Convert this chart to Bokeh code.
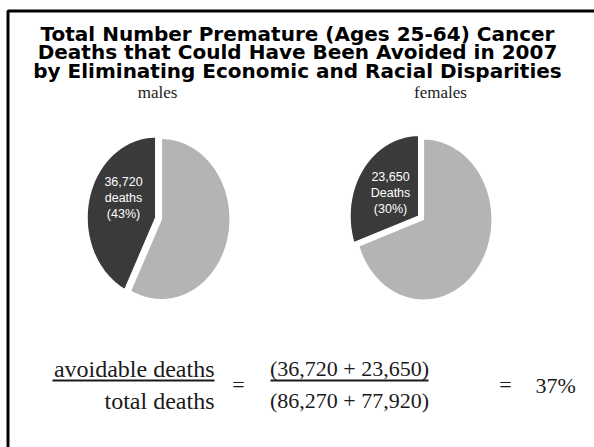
import numpy as np
from bokeh.plotting import figure
from bokeh.models import Range1d, ColumnDataSource
from bokeh.core.properties import value
from bokeh.embed import file_html
from bokeh.resources import INLINE

# --- data -------------------------------------------------------------
title_lines = [
    "Total Number Premature (Ages 25-64) Cancer",
    "Deaths that Could Have Been Avoided in 2007",
    "by Eliminating Economic and Racial Disparities",
]
groups = ["males", "females"]
avoidable = [36720, 23650]          # avoidable premature cancer deaths
total = [86270, 77920]              # all premature cancer deaths
death_word = ["deaths", "Deaths"]

# --- styling / layout -------------------------------------------------
W, H = 594, 447
DARK = "#3a3a3a"
LIGHT = "#b4b4b4"
INK = "#1a1a1a"
SANS = "Liberation Sans"
TITLE_FONT = "DejaVu Sans"
SERIF = "Liberation Serif"

pie_cx = [161, 423]
pie_cy = [218.5, 219]
RX, RY = 68.5, 80.5
EXPLODE = 6

p = figure(width=W, height=H, x_range=Range1d(0, W), y_range=Range1d(H, 0),
           output_backend="svg", toolbar_location=None, min_border=0,
           x_axis_location=None, y_axis_location=None)
p.grid.visible = False
p.outline_line_color = None
p.background_fill_color = "white"
p.border_fill_color = "white"

# frame around the slide
p.line(x=[7.5, 7.5, W + 5], y=[H + 5, 10.5, 10.5], line_color="black",
       line_width=3)

# title
p.text(x=[297] * 3, y=[33 + i * 18.6 for i in range(3)], text=title_lines,
       text_align="center", text_baseline="middle",
       text_font=value(TITLE_FONT), text_font_style="bold",
       text_font_size="20px", text_color="black")


def wedge(cx, cy, a0, a1, n=160):
    # angles measured clockwise from 12 o'clock, y axis pointing down
    t = np.linspace(a0, a1, n)
    xs = np.concatenate([[cx], cx + RX * np.sin(t), [cx]])
    ys = np.concatenate([[cy], cy - RY * np.cos(t), [cy]])
    return xs, ys


xs_all, ys_all, colors = [], [], []
for g, a, t, cx, cy in zip(groups, avoidable, total, pie_cx, pie_cy):
    frac = a / t
    # remaining deaths, clockwise from the top
    lx, ly = wedge(cx, cy, 0, 2 * np.pi * (1 - frac))
    # avoidable deaths, counter-clockwise from the top, pulled out
    mid = -np.pi * frac
    ox, oy = EXPLODE * np.sin(mid), -EXPLODE * np.cos(mid)
    dx, dy = wedge(cx + ox, cy + oy, -2 * np.pi * frac, 0)
    xs_all += [list(lx), list(dx)]
    ys_all += [list(ly), list(dy)]
    colors += [LIGHT, DARK]

p.patches(xs="xs", ys="ys", fill_color="colors", line_color="white",
          line_width=1.2,
          source=ColumnDataSource(dict(xs=xs_all, ys=ys_all, colors=colors)))

# group names above the pies
p.text(x=[157, 440], y=[92, 92], text=groups, text_align="center",
       text_baseline="middle", text_font=value(SERIF),
       text_font_size="17px", text_color="#222222")

# labels inside the dark slices
label_pos = [(123, 181), (390, 176)]
for (lx0, ly0), a, t, w in zip(label_pos, avoidable, total, death_word):
    lines = [f"{a:,}", w, f"({round(100 * a / t)}%)"]
    p.text(x=[lx0] * 3, y=[ly0 + 16 * k for k in range(3)], text=lines,
           text_align="center", text_baseline="middle",
           text_font=value(SANS), text_font_size="12.5px",
           text_color="white")

# the overall fraction
overall = round(100 * sum(avoidable) / sum(total))
num_txt = "(" + " + ".join(f"{a:,}" for a in avoidable) + ")"
den_txt = "(" + " + ".join(f"{t:,}" for t in total) + ")"
p.text(x=[214, 214], y=[368, 400], text=["avoidable deaths", "total deaths"],
       text_align="right", text_baseline="middle", text_font=value(SERIF),
       text_font_size="24px", text_color=INK)
p.text(x=[349, 349], y=[368, 400], text=[num_txt, den_txt],
       text_align="center", text_baseline="middle", text_font=value(SERIF),
       text_font_size="22px", text_color=INK)
p.segment(x0=[52, 270], y0=[380, 380], x1=[214, 428], y1=[380, 380],
          line_color=INK, line_width=2)
p.text(x=[238, 505], y=[384, 384], text=["=", "="], text_align="center",
       text_baseline="middle", text_font=value(SERIF), text_font_size="22px",
       text_color=INK)
p.text(x=[535], y=[385], text=[f"{overall}%"], text_align="left",
       text_baseline="middle", text_font=value(SERIF), text_font_size="22px",
       text_color=INK)

open("out.html", "w").write(file_html(p, INLINE))
